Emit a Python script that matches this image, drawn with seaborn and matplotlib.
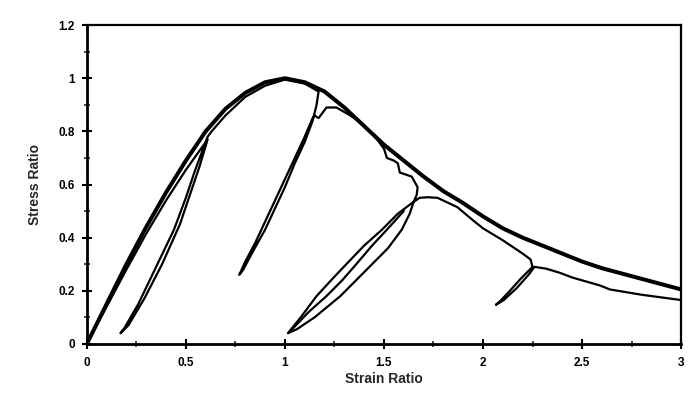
import matplotlib
matplotlib.use("Agg")
import matplotlib.pyplot as plt
from matplotlib.ticker import MultipleLocator, FuncFormatter
import pandas as pd
import seaborn as sns

sns.set_style("ticks")
plt.rcParams['font.family'] = ['Liberation Sans', 'DejaVu Sans']
plt.rcParams['font.weight'] = 'bold'

# монотонна крива (товста огинаюча)
mono_strain = [0, 0.1, 0.2, 0.3, 0.4, 0.5, 0.6, 0.7, 0.8, 0.9, 1.0, 1.1, 1.2, 1.3,
               1.4, 1.5, 1.6, 1.7, 1.8, 1.9, 2.0, 2.1, 2.2, 2.3, 2.4, 2.5, 2.6,
               2.7, 2.8, 2.9, 3.0]
mono_stress = [0, 0.15, 0.30, 0.44, 0.57, 0.69, 0.80, 0.885, 0.945, 0.985, 1.0,
               0.985, 0.95, 0.89, 0.82, 0.75, 0.69, 0.63, 0.575, 0.53, 0.48,
               0.435, 0.40, 0.37, 0.34, 0.31, 0.285, 0.265, 0.245, 0.225, 0.205]

# циклічна крива: основний шлях
cyc_strain = [0, 0.1, 0.2, 0.3, 0.4, 0.5, 0.61,
              # петля 1 (розвантаження / навантаження)
              0.59, 0.57, 0.52, 0.47, 0.38, 0.29, 0.21, 0.17,
              0.19, 0.26, 0.35, 0.44, 0.50, 0.545, 0.58, 0.61,
              0.63, 0.7, 0.8, 0.9, 1.0, 1.1, 1.17,
              # петля 2
              1.16, 1.14, 1.10, 1.05, 1.00, 0.95, 0.90, 0.84, 0.79, 0.77,
              0.80, 0.85, 0.90, 0.95, 1.00, 1.05, 1.10, 1.14, 1.15,
              1.17, 1.21, 1.26, 1.33, 1.38, 1.45, 1.50,
              1.515, 1.55, 1.57, 1.58, 1.64, 1.67, 1.665, 1.65,
              # петля 3
              1.63, 1.59, 1.52, 1.44, 1.36, 1.28, 1.15, 1.06, 1.015,
              1.08, 1.16, 1.24, 1.31, 1.40, 1.49, 1.57, 1.65,
              1.68, 1.72, 1.77, 1.87, 1.95, 2.0, 2.1, 2.2, 2.24, 2.25,
              # петля 4
              2.19, 2.13, 2.085, 2.065, 2.105, 2.17, 2.23, 2.26,
              2.32, 2.39, 2.45, 2.59, 2.64, 2.8, 3.0]
cyc_stress = [0, 0.14, 0.28, 0.415, 0.54, 0.655, 0.77,
              0.72, 0.67, 0.56, 0.45, 0.30, 0.17, 0.07, 0.04,
              0.06, 0.15, 0.29, 0.43, 0.55, 0.65, 0.72, 0.78,
              0.80, 0.86, 0.93, 0.972, 0.995, 0.98, 0.95,
              0.90, 0.84, 0.76, 0.68, 0.59, 0.51, 0.43, 0.35, 0.28, 0.26,
              0.31, 0.38, 0.46, 0.54, 0.62, 0.70, 0.78, 0.85, 0.86,
              0.85, 0.89, 0.89, 0.86, 0.835, 0.785, 0.735,
              0.70, 0.69, 0.68, 0.645, 0.63, 0.59, 0.56, 0.535,
              0.49, 0.43, 0.36, 0.30, 0.24, 0.18, 0.10, 0.055, 0.04,
              0.10, 0.18, 0.245, 0.30, 0.37, 0.43, 0.49, 0.535,
              0.55, 0.552, 0.55, 0.515, 0.465, 0.435, 0.39, 0.34, 0.318, 0.29,
              0.245, 0.195, 0.16, 0.147, 0.165, 0.21, 0.26, 0.29,
              0.283, 0.267, 0.25, 0.22, 0.205, 0.185, 0.165]

# внутрішня лінія петлі 3
inner_strain = [1.03, 1.12, 1.21, 1.29, 1.36, 1.44, 1.515, 1.60]
inner_stress = [0.05, 0.12, 0.18, 0.24, 0.30, 0.37, 0.43, 0.50]

cyc = pd.concat([
    pd.DataFrame({"Strain": cyc_strain, "Stress": cyc_stress, "seg": 0}),
    pd.DataFrame({"Strain": inner_strain, "Stress": inner_stress, "seg": 1}),
], ignore_index=True)
mono = pd.DataFrame({"Strain": mono_strain, "Stress": mono_stress})

fig = plt.figure(figsize=(7, 3.93), dpi=100)
ax = fig.add_axes([0.124, 0.125, 0.849, 0.811])

sns.lineplot(data=mono, x="Strain", y="Stress", color="black", linewidth=2.9,
             sort=False, estimator=None, ax=ax)
sns.lineplot(data=cyc, x="Strain", y="Stress", units="seg", color="black",
             linewidth=1.6, sort=False, estimator=None, ax=ax)

ax.set_xlim(0, 3)
ax.set_ylim(0, 1.2)
ax.xaxis.set_major_locator(MultipleLocator(0.5))
ax.xaxis.set_minor_locator(MultipleLocator(0.25))
ax.yaxis.set_major_locator(MultipleLocator(0.2))
ax.yaxis.set_minor_locator(MultipleLocator(0.1))
fmt = FuncFormatter(lambda v, p: f"{v:g}")
ax.xaxis.set_major_formatter(fmt)
ax.yaxis.set_major_formatter(fmt)
ax.tick_params(which="major", direction="inout", length=7, width=1.5,
               labelsize=8.5, colors="black")
ax.tick_params(axis="x", which="major", pad=6)
ax.tick_params(axis="y", which="major", pad=5)
ax.tick_params(which="minor", direction="inout", length=4, width=1.2)
for lab in ax.get_xticklabels() + ax.get_yticklabels():
    lab.set_fontweight("bold")

for side in ["left", "bottom"]:
    ax.spines[side].set_linewidth(2.0)
for side in ["top", "right"]:
    ax.spines[side].set_linewidth(1.6)
for sp in ax.spines.values():
    sp.set_color("black")

ax.set_xlabel("Strain Ratio", fontsize=10, fontweight="bold", labelpad=2)
ax.set_ylabel("Stress Ratio", fontsize=10, fontweight="bold", labelpad=12)

fig.savefig("out.png", dpi=100)
